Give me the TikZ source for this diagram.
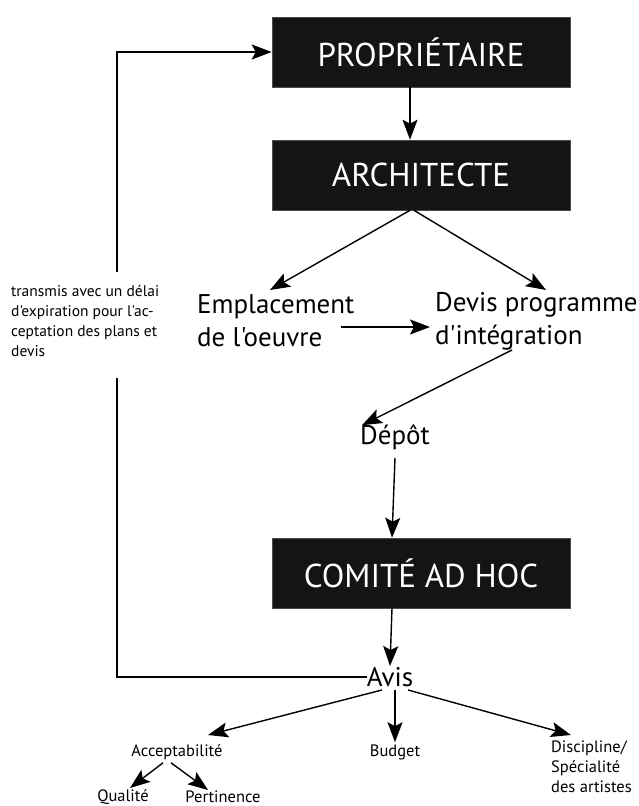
\documentclass[tikz,border=0pt]{standalone}
\usepackage{fontspec}
\setmainfont{PT Sans}[Ligatures=TeXOff]
\usetikzlibrary{arrows.meta}
\begin{document}
\begin{tikzpicture}[x=1pt,y=-1pt,
  box/.style={fill=black!92,draw=black!70,line width=0.6pt,minimum width=298pt,minimum height=70pt,inner sep=0pt,text=white,font=\fontsize{33}{36}\selectfont},
  big/.style={font=\fontsize{27}{33}\selectfont,inner sep=0pt},
  small/.style={font=\fontsize{15.5}{20}\selectfont,inner sep=0pt},
  lab/.style={font=\fontsize{16.5}{20}\selectfont,inner sep=0pt},
  arr/.style={line width=1.4pt,-{Stealth[length=20pt,width=15pt,inset=4pt]}},
  ln/.style={line width=1.4pt}]
\useasboundingbox (0,0) rectangle (639,806);
\node[box] (prop) at (421,52) {PROPRIÉTAIRE};
\node[box] (arch) at (421,175) {ARCHITECTE};
\node[box] (com) at (421,573) {COMITÉ AD HOC};
\node[big,align=left,anchor=west] (emp) at (197,321) {Emplacement\\de l'oeuvre};
\node[big,align=left,anchor=west] (dev) at (435,321) {Devis programme\\d'intégration};
\node[big] (dep) at (395,437) {Dépôt};
\node[big] (avis) at (390,677) {Avis};
\node[lab] (acc) at (177,752) {Acceptabilité};
\node[lab] (bud) at (395,752) {Budget};
\node[lab,align=left,anchor=north west] (dis) at (551,741) {Discipline/\\Spécialité\\des artistes};
\node[lab] (qua) at (123,797) {Qualité};
\node[lab] (per) at (223,797) {Pertinence};
\node[small,align=left,anchor=north west] (tr) at (11,285) {transmis avec un délai\\d'expiration pour l'ac-\\ceptation des plans et\\devis};
\coordinate (fb1) at (117,272);
\coordinate (fb2) at (117,378);
\draw[arr] ([xshift=-11pt]prop.south) -- ([xshift=-11pt]arch.north);
\draw[arr] ([xshift=-11pt]arch.south) -- (270,290);
\draw[arr] ([xshift=-7pt]arch.south) -- (546,290);
\draw[arr] ([xshift=-14pt,yshift=-6pt]emp.east) -- ([xshift=-5pt,yshift=-6pt]dev.west);
\draw[arr] (512,350) -- ([xshift=2pt,yshift=-1pt]dep.north west);
\draw[arr] ([yshift=-8pt]dep.south) -- ([xshift=-29pt]com.north);
\draw[arr] ([xshift=-29pt]com.south) -- ([yshift=1pt]avis.north);
\draw[ln] (avis.west) -| (fb2);
\draw[arr] (fb1) |- (prop.west);
\draw[arr] ([xshift=-8pt,yshift=-3pt]avis.south) -- (208,735);
\draw[arr] ([xshift=5pt,yshift=-3pt]avis.south) -- ([yshift=2pt]bud.north);
\draw[arr] ([xshift=18pt,yshift=-3pt]avis.south) -- (571,735);
\draw[arr] ([xshift=-14pt,yshift=-3pt]acc.south) -- (130,788);
\draw[arr] ([xshift=-6pt,yshift=-3pt]acc.south) -- (208,790);
\end{tikzpicture}
\end{document}
